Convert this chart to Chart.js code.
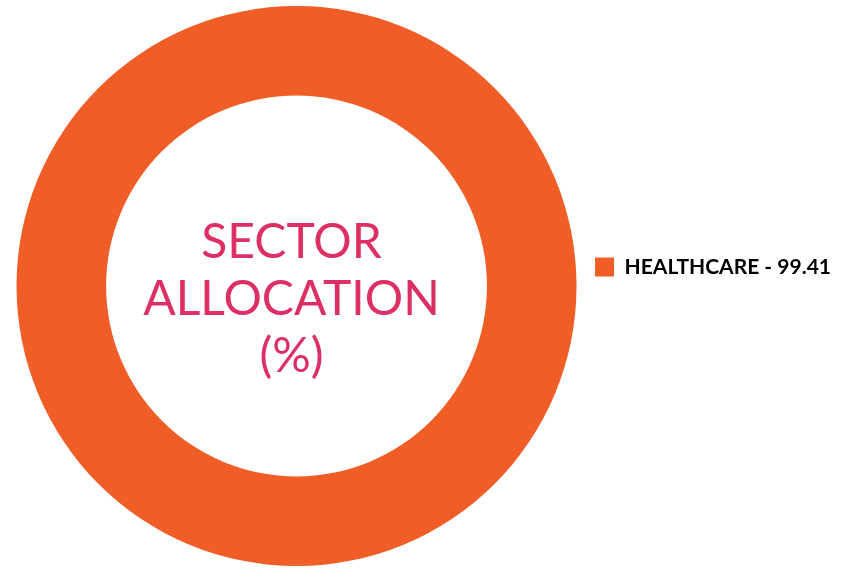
<!DOCTYPE html>
<html>
<head>
<meta charset="utf-8">
<script src="https://cdn.jsdelivr.net/npm/chart.js@4/dist/chart.umd.min.js"></script>
<style>
  html, body { margin: 0; padding: 0; background: #fff; }
  #wrap { width: 846px; height: 576px; }
</style>
</head>
<body>
<div id="wrap"><canvas id="sectorChart"></canvas></div>
<script>
// Sector allocation data
const sectors = ['HEALTHCARE'];
const allocation = [99.41];
const sectorColors = ['#f15d27'];
const centerLines = ['SECTOR', 'ALLOCATION', '(%)'];

// Draw the title text in the hole of the doughnut
const centerText = {
    id: 'centerText',
    afterDatasetsDraw(chart) {
        const meta = chart.getDatasetMeta(0);
        if (!meta.data.length) return;
        const { x, y } = meta.data[0];
        const ctx = chart.ctx;
        ctx.save();
        ctx.fillStyle = '#dd2f64';
        ctx.font = '48px Lato';
        ctx.textAlign = 'center';
        ctx.textBaseline = 'alphabetic';
        centerLines.forEach((line, i) => {
            ctx.fillText(line, x - 5, y - 28 + i * 57);
        });
        ctx.restore();
    }
};

// Nudge the legend a bit above the middle, like the original
const legendLift = {
    id: 'legendLift',
    afterLayout(chart) {
        chart.legend.top -= 19;
        chart.legend.bottom -= 19;
    }
};

const ctx = document.getElementById('sectorChart').getContext('2d');
const chart = new Chart(ctx, {
    type: 'doughnut',
    data: {
        labels: sectors,
        datasets: [{
            data: allocation,
            backgroundColor: sectorColors,
            borderWidth: 0
        }]
    },
    options: {
        responsive: true,
        maintainAspectRatio: false,
        animation: false,
        cutout: '68%',
        layout: { padding: { left: 8, right: 5, top: 6, bottom: 10 } },
        plugins: {
            tooltip: { enabled: false },
            legend: {
                position: 'right',
                labels: {
                    boxWidth: 19,
                    boxHeight: 19,
                    color: '#3a3a3a',
                    font: { family: 'Lato', size: 21, weight: 'bold' },
                    generateLabels(c) {
                        const ds = c.data.datasets[0];
                        return c.data.labels.map((label, i) => ({
                            text: label + ' - ' + ds.data[i],
                            fillStyle: ds.backgroundColor[i],
                            strokeStyle: ds.backgroundColor[i],
                            lineWidth: 0,
                            index: i
                        }));
                    }
                }
            }
        }
    },
    plugins: [centerText, legendLift]
});
</script>
</body>
</html>
